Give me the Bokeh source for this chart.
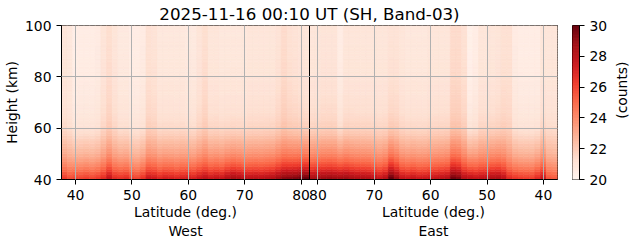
import numpy as np
from bokeh.plotting import figure
from bokeh.models import LinearColorMapper, FixedTicker, Label, ColumnDataSource, Span, LinearAxis
from bokeh.layouts import row
from bokeh.palettes import Reds9
from bokeh.embed import file_html
from bokeh.resources import INLINE

# ---------------- data ----------------
title_text = "2025-11-16 00:10 UT (SH, Band-03)"
seam_lat = 81.5
west_lat = list(range(38, 82))          # 38 .. 81
east_lat = list(range(81, 37, -1))      # 81 .. 38
height_km = [40.5 + k for k in range(60)]   # 1-km rows, centres

# counts at the lowest row (40 km)
west_bottom = [26.3, 25.8, 26.0, 26.0, 26.2, 26.0, 26.3, 26.8, 27.8, 26.8,
               26.6, 26.8, 26.2, 26.0, 26.6, 27.6, 27.4, 27.0, 27.3, 27.2,
               27.0, 27.2, 27.3, 27.2, 27.6, 28.0, 27.6, 27.8, 27.7, 28.3,
               28.6, 28.4, 28.0, 28.0, 28.1, 28.0, 28.2, 28.3, 28.8, 29.3,
               29.4, 29.5, 29.8, 30.0]
# counts at the top (~100 km)
west_top = [20.9, 20.8, 20.4, 20.5, 20.5, 20.5, 20.6, 21.0, 21.3, 21.0,
            20.7, 20.7, 20.5, 20.5, 20.6, 21.2, 21.1, 20.8, 20.8, 20.8,
            20.8, 20.8, 20.7, 20.7, 21.0, 21.3, 20.9, 20.9, 20.8, 20.8,
            20.8, 20.8, 20.8, 20.9, 20.9, 20.9, 20.9, 20.9, 21.1, 21.4,
            21.2, 21.1, 21.0, 20.9]
east_bottom = [28.6, 28.8, 28.9, 29.0, 28.9, 28.8, 28.9, 28.6, 28.4, 28.4,
               28.3, 28.0, 27.7, 28.2, 30.0, 29.0, 27.8, 27.6, 27.8, 27.5,
               27.6, 27.7, 27.8, 28.0, 28.2, 29.8, 29.5, 28.2, 28.0, 27.8,
               27.9, 28.0, 28.4, 28.5, 28.0, 26.8, 26.5, 26.3, 26.2, 26.2,
               26.8, 27.6, 25.6, 25.4]
east_top = [20.9, 20.9, 21.0, 21.0, 21.0, 20.5, 20.9, 20.9, 20.9, 20.9,
            20.9, 20.9, 20.9, 20.9, 21.1, 21.1, 20.9, 20.8, 20.8, 20.8,
            20.8, 20.9, 20.9, 20.9, 20.9, 21.4, 21.4, 21.2, 20.3, 20.5,
            20.9, 20.9, 20.9, 21.0, 21.2, 21.2, 20.6, 20.5, 20.5, 20.5,
            20.5, 20.9, 20.9, 20.9]
# vertical shape of the enhancement (fraction of bottom excess), per row
profile = [1.00, 0.93, 0.85, 0.77, 0.69, 0.62, 0.56, 0.51, 0.46, 0.42,
           0.38, 0.35, 0.32, 0.29, 0.26, 0.23, 0.20, 0.17, 0.145, 0.125,
           0.105, 0.095, 0.085, 0.075, 0.068, 0.062, 0.056, 0.051, 0.047, 0.043,
           0.040, 0.037, 0.034, 0.031, 0.028, 0.026, 0.024, 0.022, 0.020, 0.018,
           0.016, 0.015, 0.014, 0.013, 0.012, 0.011, 0.010, 0.009, 0.008, 0.007,
           0.006, 0.005, 0.004, 0.004, 0.003, 0.002, 0.002, 0.001, 0.001, 0.0]
lat_ticks = [40, 50, 60, 70, 80]
height_ticks = [40, 60, 80, 100]
cbar_ticks = [20, 22, 24, 26, 28, 30]
vmin, vmax = 20, 30

# ---------------- helpers ----------------
FONT = "DejaVu Sans"
FS = "13.9px"
H = 243

def hex2rgb(h):
    return [int(h[i:i + 2], 16) for i in (1, 3, 5)]

base = np.array([hex2rgb(c) for c in Reds9[::-1]], dtype=float)
t_in = np.linspace(0, 1, len(base))
pal = ["#%02x%02x%02x" % tuple(int(round(np.interp(t, t_in, base[:, k]))) for k in range(3))
       for t in np.linspace(0, 1, 256)]
mapper = LinearColorMapper(palette=pal, low=vmin, high=vmax)


def style_axis(ax, ticks=True):
    ax.major_tick_out = 5 if ticks else 0
    ax.major_tick_in = 0
    ax.minor_tick_out = 0
    ax.minor_tick_in = 0
    ax.major_label_standoff = 5
    ax.major_tick_line_color = "black" if ticks else None
    ax.axis_line_color = "black" if ticks else None
    ax.major_label_text_font = FONT
    ax.major_label_text_font_size = FS
    ax.major_label_text_color = "black"
    ax.axis_label_text_font = FONT
    ax.axis_label_text_font_size = FS
    ax.axis_label_text_font_style = "normal"
    ax.axis_label_text_color = "black"


# west latitudes run left->right, east latitudes mirrored after the seam
east_x = [2 * seam_lat - l for l in east_lat]
xs, ys, vs = [], [], []
for xpos, bot, top in ((west_lat, west_bottom, west_top), (east_x, east_bottom, east_top)):
    for i, xc in enumerate(xpos):
        for j, h in enumerate(height_km):
            xs.append(xc)
            ys.append(h)
            vs.append(top[i] + (bot[i] - top[i]) * profile[j])
src = ColumnDataSource(dict(x=xs, y=ys, v=vs))
x_lo, x_hi = west_lat[0] - 0.5, east_x[-1] + 0.5

p = figure(width=566, height=H, x_range=(x_lo, x_hi), y_range=(40, 100),
           output_backend="svg", toolbar_location=None,
           min_border_left=61, min_border_right=9, min_border_top=25, min_border_bottom=64)
p.rect(x="x", y="y", width=1, height=1, source=src,
       fill_color={"field": "v", "transform": mapper},
       line_color={"field": "v", "transform": mapper}, line_width=0.6)

tick_locs = lat_ticks + [2 * seam_lat - l for l in lat_ticks[::-1]]
overrides = {t: str(t) for t in lat_ticks}
for l in lat_ticks:
    overrides[2 * seam_lat - l] = str(l)
p.xaxis.ticker = FixedTicker(ticks=tick_locs)
p.xaxis.major_label_overrides = overrides
p.yaxis.ticker = FixedTicker(ticks=height_ticks)
p.yaxis.axis_label = "Height (km)"
style_axis(p.xaxis[0])
style_axis(p.yaxis[0])
p.yaxis.axis_label_standoff = 2

# "Latitude (deg.)" / "West" / "East" as tick labels of two extra axes
mid_w = (x_lo + seam_lat) / 2
mid_e = (seam_lat + x_hi) / 2
ax1 = LinearAxis(ticker=FixedTicker(ticks=[mid_w, mid_e]),
                 major_label_overrides={mid_w: "Latitude (deg.)", mid_e: "Latitude (deg.)"})
style_axis(ax1, ticks=False)
ax1.major_label_standoff = 1
p.add_layout(ax1, "below")
ax2 = LinearAxis(ticker=FixedTicker(ticks=[mid_w, mid_e]),
                 major_label_overrides={mid_w: "West", mid_e: "East"})
style_axis(ax2, ticks=False)
ax2.major_label_standoff = 0
p.add_layout(ax2, "below")

for g in p.grid:
    g.grid_line_color = "#b0b0b0"
    g.grid_line_width = 1
    g.level = "overlay"
p.outline_line_color = "black"
p.outline_line_alpha = 1
p.outline_line_width = 1
p.add_layout(Span(location=seam_lat, dimension="height", line_color="black", line_width=1))

p.title.text = title_text
p.title.align = "center"
p.title.offset = -9.5
p.title.standoff = 3
p.title.text_font = FONT
p.title.text_font_size = "16.7px"
p.title.text_font_style = "normal"
p.title.text_color = "black"

# ---------------- colour bar ----------------
cb = figure(width=44, height=H, x_range=(0, 1), y_range=(vmin, vmax),
            output_backend="svg", toolbar_location=None,
            x_axis_location=None, y_axis_location="right",
            min_border_left=6, min_border_right=28, min_border_top=25, min_border_bottom=64)
edges = np.linspace(vmin, vmax, len(pal) + 1)
cb.quad(left=0, right=1, bottom=edges[:-1], top=edges[1:], fill_color=pal, line_color=pal,
        line_width=0.5)
cb.grid.visible = False
cb.outline_line_color = "black"
cb.outline_line_alpha = 1
style_axis(cb.yaxis[0])
cb.yaxis.ticker = FixedTicker(ticks=cbar_ticks)

# colour-bar label strip
lf = figure(width=21, height=H, x_range=(0, 21), y_range=(0, H),
            output_backend="svg", toolbar_location=None,
            x_axis_location=None, y_axis_location=None,
            min_border_left=0, min_border_right=0, min_border_top=0, min_border_bottom=0)
lf.grid.visible = False
lf.outline_line_color = None
lf.add_layout(Label(x=11, y=H - 102, text="(counts)", angle=np.pi / 2,
                    text_align="center", text_baseline="middle",
                    text_font=FONT, text_font_size=FS, text_color="black"))

layout = row(p, cb, lf)
open("out.html", "w").write(file_html(layout, INLINE))
